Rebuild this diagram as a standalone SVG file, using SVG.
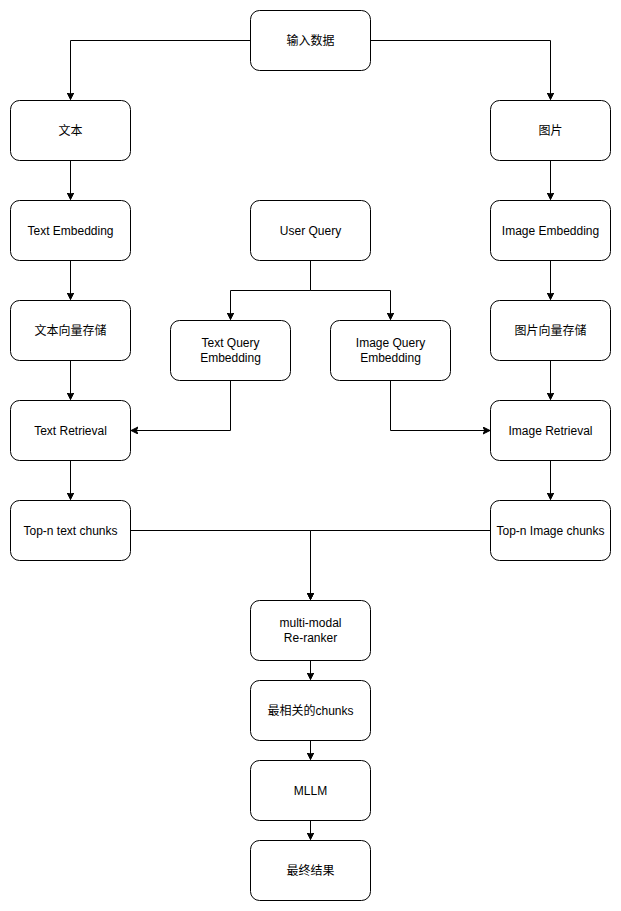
<svg xmlns="http://www.w3.org/2000/svg" width="621" height="911" viewBox="0 0 621 911">
<style>
.n rect{fill:#fff;stroke:#000;stroke-width:1}
.n text{font-family:"Liberation Sans","Noto Sans CJK SC",sans-serif;font-size:12px;fill:#000;text-anchor:middle;dominant-baseline:central}
.e path{fill:none;stroke:#000;stroke-width:1}
</style>
<defs>
<marker id="a" markerWidth="8" markerHeight="8" refX="7" refY="3.5" orient="auto" markerUnits="userSpaceOnUse">
<path d="M0,0 L7,3.5 L0,7 L1.75,3.5 Z" fill="#000" stroke="#000" stroke-width="1"/>
</marker>
</defs>
<rect width="621" height="911" fill="#fff"/>
<g id="edges" class="e">
<path d="M250.5,40.5 H70.5 V99.5" marker-end="url(#a)"/>
<path d="M370.5,40.5 H550.5 V99.5" marker-end="url(#a)"/>
<path d="M70.5,160.5 V199.5" marker-end="url(#a)"/>
<path d="M550.5,160.5 V199.5" marker-end="url(#a)"/>
<path d="M70.5,260.5 V299.5" marker-end="url(#a)"/>
<path d="M550.5,260.5 V299.5" marker-end="url(#a)"/>
<path d="M70.5,360.5 V399.5" marker-end="url(#a)"/>
<path d="M550.5,360.5 V399.5" marker-end="url(#a)"/>
<path d="M70.5,460.5 V499.5" marker-end="url(#a)"/>
<path d="M550.5,460.5 V499.5" marker-end="url(#a)"/>
<path d="M310.5,260.5 V290.5 H230.5 V319.5" marker-end="url(#a)"/>
<path d="M310.5,260.5 V290.5 H390.5 V319.5" marker-end="url(#a)"/>
<path d="M230.5,380.5 V430.5 H131" marker-end="url(#a)"/>
<path d="M390.5,380.5 V430.5 H490" marker-end="url(#a)"/>
<path d="M130.5,530.5 H310.5 V599.5" marker-end="url(#a)"/>
<path d="M490.5,530.5 H310.5 V599.5" marker-end="url(#a)"/>
<path d="M310.5,660.5 V679.5" marker-end="url(#a)"/>
<path d="M310.5,740.5 V759.5" marker-end="url(#a)"/>
<path d="M310.5,820.5 V839.5" marker-end="url(#a)"/>
</g>
<g id="n1" class="n"><rect x="250.5" y="10.5" width="120" height="60" rx="9"/><text x="310.5" y="40.5">输入数据</text></g>
<g id="n2" class="n"><rect x="10.5" y="100.5" width="120" height="60" rx="9"/><text x="70.5" y="130.5">文本</text></g>
<g id="n3" class="n"><rect x="490.5" y="100.5" width="120" height="60" rx="9"/><text x="550.5" y="130.5">图片</text></g>
<g id="n4" class="n"><rect x="10.5" y="200.5" width="120" height="60" rx="9"/><text x="70.5" y="230.5">Text Embedding</text></g>
<g id="n5" class="n"><rect x="250.5" y="200.5" width="120" height="60" rx="9"/><text x="310.5" y="230.5">User Query</text></g>
<g id="n6" class="n"><rect x="490.5" y="200.5" width="120" height="60" rx="9"/><text x="550.5" y="230.5">Image Embedding</text></g>
<g id="n7" class="n"><rect x="10.5" y="300.5" width="120" height="60" rx="9"/><text x="70.5" y="330.5">文本向量存储</text></g>
<g id="n8" class="n"><rect x="490.5" y="300.5" width="120" height="60" rx="9"/><text x="550.5" y="330.5">图片向量存储</text></g>
<g id="n9" class="n"><rect x="170.5" y="320.5" width="120" height="60" rx="9"/><text x="230.5" y="343">Text Query</text><text x="230.5" y="358">Embedding</text></g>
<g id="n10" class="n"><rect x="330.5" y="320.5" width="120" height="60" rx="9"/><text x="390.5" y="343">Image Query</text><text x="390.5" y="358">Embedding</text></g>
<g id="n11" class="n"><rect x="10.5" y="400.5" width="120" height="60" rx="9"/><text x="70.5" y="430.5">Text Retrieval</text></g>
<g id="n12" class="n"><rect x="490.5" y="400.5" width="120" height="60" rx="9"/><text x="550.5" y="430.5">Image Retrieval</text></g>
<g id="n13" class="n"><rect x="10.5" y="500.5" width="120" height="60" rx="9"/><text x="70.5" y="530.5">Top-n text chunks</text></g>
<g id="n14" class="n"><rect x="490.5" y="500.5" width="120" height="60" rx="9"/><text x="550.5" y="530.5">Top-n Image chunks</text></g>
<g id="n15" class="n"><rect x="250.5" y="600.5" width="120" height="60" rx="9"/><text x="310.5" y="623">multi-modal</text><text x="310.5" y="638">Re-ranker</text></g>
<g id="n16" class="n"><rect x="250.5" y="680.5" width="120" height="60" rx="9"/><text x="310.5" y="710.5">最相关的chunks</text></g>
<g id="n17" class="n"><rect x="250.5" y="760.5" width="120" height="60" rx="9"/><text x="310.5" y="790.5">MLLM</text></g>
<g id="n18" class="n"><rect x="250.5" y="840.5" width="120" height="60" rx="9"/><text x="310.5" y="870.5">最终结果</text></g>
</svg>
